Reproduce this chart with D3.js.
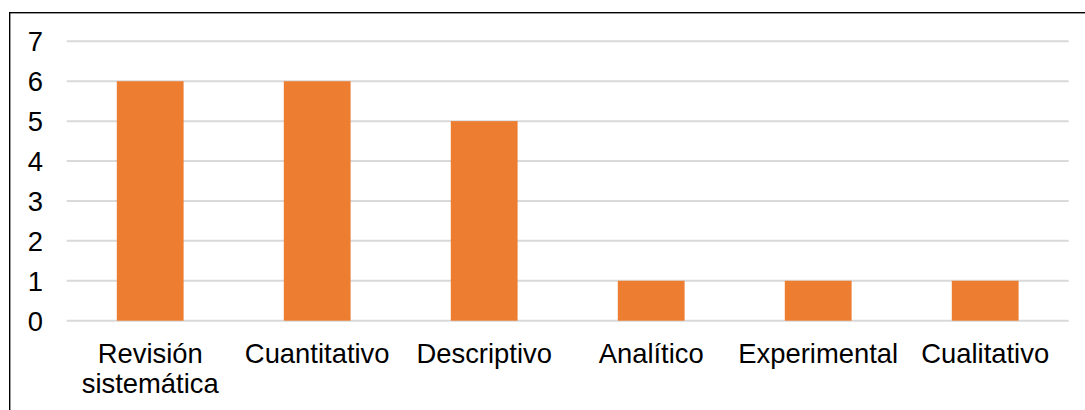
<!DOCTYPE html>
<html>
<head>
<meta charset="utf-8">
<script src="https://cdn.jsdelivr.net/npm/d3@7"></script>
<style>
  html, body { margin: 0; padding: 0; background: #fff; }
  svg { display: block; }
</style>
</head>
<body>
<svg id="chart" width="1085" height="410"></svg>
<script>
const categories = [["Revisión", "sistemática"], ["Cuantitativo"], ["Descriptivo"], ["Analítico"], ["Experimental"], ["Cualitativo"]];
const values = [6, 6, 5, 1, 1, 1];
const yTicks = [0, 1, 2, 3, 4, 5, 6, 7];

(function () {
const svg = d3.select("#chart");
const W = 1085, H = 410;
const mLeft = 66.7, mRight = 1068.7, mTop = 41.3, mBottom = 320.7;
const FONT = "Liberation Sans, Arial, sans-serif";
const FS = "27.4px";

// outer border (extends beyond right/bottom edges)
svg.append("rect")
  .attr("x", 9.7).attr("y", 12.7)
  .attr("width", W + 20).attr("height", H + 20)
  .attr("fill", "none").attr("stroke", "#000").attr("stroke-width", 1.4);

const x = d3.scaleBand()
  .domain(categories.map((d, i) => i))
  .range([mLeft, mRight])
  .paddingInner(0.6).paddingOuter(0.3);

const y = d3.scaleLinear().domain([0, 7]).range([mBottom, mTop]);

// gridlines
svg.append("g").selectAll("line").data(yTicks).join("line")
  .attr("x1", mLeft).attr("x2", mRight)
  .attr("y1", d => y(d)).attr("y2", d => y(d))
  .attr("stroke", "#d9d9d9").attr("stroke-width", 2);

// y axis labels
const yAxis = d3.axisLeft(y).tickValues(yTicks).tickSize(0).tickPadding(0).tickFormat(d3.format("d"));
const gy = svg.append("g").attr("transform", "translate(43,0)").call(yAxis);
gy.select(".domain").remove();
gy.attr("font-size", null).attr("font-family", null);
gy.selectAll("text")
  .attr("font-family", FONT)
  .attr("font-size", FS).attr("fill", "#000")
  .attr("dy", "0.35em");

// bars
svg.append("g").selectAll("rect").data(values).join("rect")
  .attr("x", (d, i) => x(i))
  .attr("y", d => y(d))
  .attr("width", x.bandwidth())
  .attr("height", d => y(0) - y(d))
  .attr("fill", "#ED7D31");

// category labels
const lab = svg.append("g").selectAll("text").data(categories).join("text")
  .attr("x", (d, i) => x(i) + x.bandwidth() / 2)
  .attr("y", 362.7)
  .attr("text-anchor", "middle")
  .attr("font-family", FONT)
  .attr("font-size", FS).attr("fill", "#000");
lab.each(function (d, i) {
  const t = d3.select(this);
  d.forEach((line, k) => {
    t.append("tspan")
      .attr("x", x(i) + x.bandwidth() / 2)
      .attr("dy", k === 0 ? 0 : 30.5)
      .text(line);
  });
});
})();
</script>
</body>
</html>
